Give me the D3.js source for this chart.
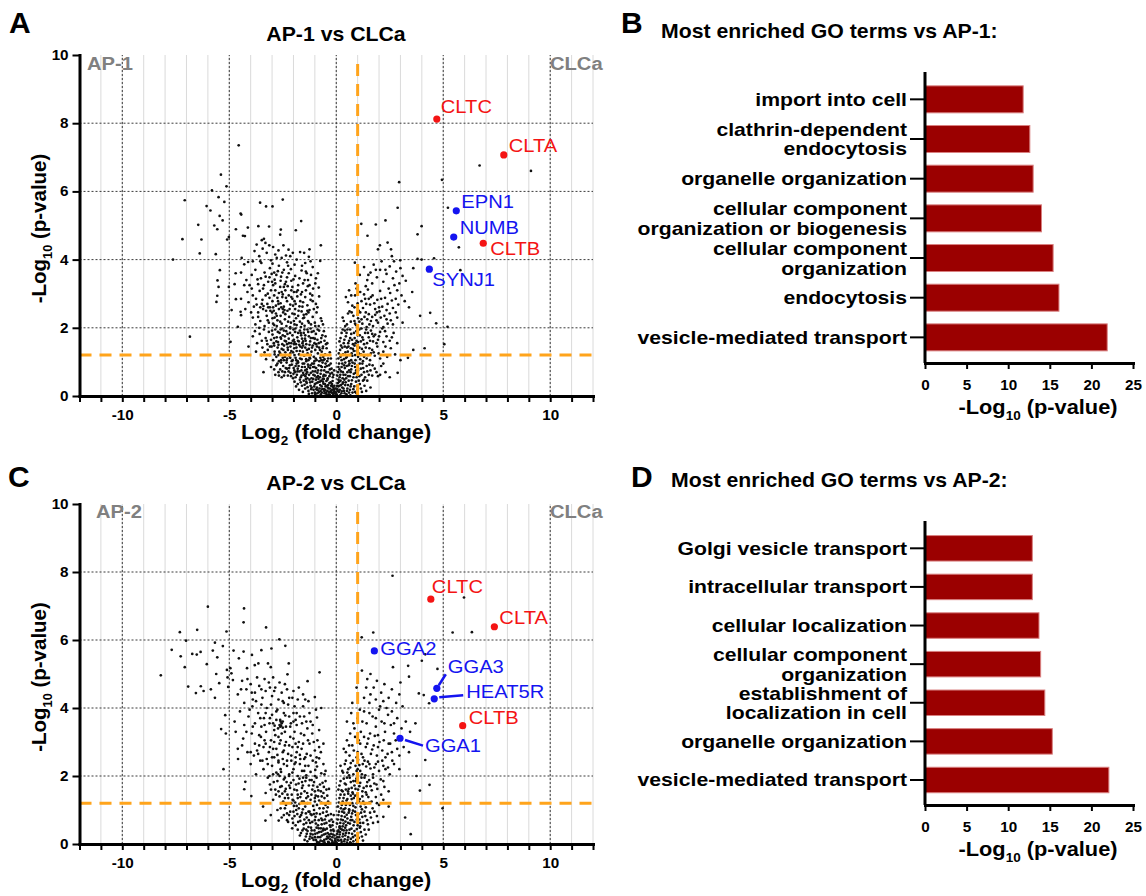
<!DOCTYPE html>
<html>
<head>
<meta charset="utf-8">
<script src="https://cdn.jsdelivr.net/npm/d3@7"></script>
<style>
body { margin: 0; background: #fff; }
svg { display: block; }
</style>
</head>
<body>
<div id="fig"></div>
<script>
'use strict'

// ---------- data ----------

// panel A: AP-1 vs CLCa, background proteins [log2 FC, -log10 p]
const ap1Points = [
	[-4.56,7.35],[-5.39,6.49],[-5.81,6.03],[-5.13,6.15],[-7.08,5.74],[-5.5,5.83],[-5.23,5.69],[-6.06,5.57],[-5.88,5.44],[-5.45,5.28],
	[-6.45,5.02],[-5.7,5.0],[-5.31,5.15],[-5.56,4.89],[-7.19,4.6],[-6.3,4.59],[-5.02,4.66],[-5.1,4.59],[-6.38,4.18],[-5.63,4.16],
	[-7.63,4.0],[-6.84,1.74],[-4.47,5.35],[-4.44,5.32],[-3.56,5.67],[-3.28,5.56],[-2.98,5.56],[-2.5,5.76],[-1.64,5.13],[-0.72,4.42],
	[-4.69,4.89],[-4.13,4.94],[-4.36,4.7],[-4.27,4.69],[-3.64,4.98],[-3.14,4.97],[-2.59,4.88],[-2.62,4.73],[-1.89,4.86],
	[-3.72,4.44],[-3.48,4.57],[-3.38,4.61],[-3.31,4.49],[-3.44,4.32],[-3.13,4.42],[-2.95,4.37],[-2.7,4.27],[-2.47,4.42],[-2.23,4.29],
	[-2.03,4.2],[-1.69,4.22],[-1.5,4.2],[-1.28,4.08],[-0.75,3.96],[-3.6,4.1],[-3.05,3.98],[-2.85,4.15],[-2.55,4.05],[-2.3,3.92],
	[-1.95,3.85],[-1.45,3.9],[-3.9,3.95],[-4.42,4.05],[-4.3,3.86],[-4.12,3.93],[-2.68,3.82],[-1.1,3.78],
	[-4.7,3.6],[-4.45,3.62],[-4.2,3.4],[-3.95,3.55],[-3.78,3.7],[-3.52,3.45],[-3.35,3.62],[-3.18,3.35],[-3.02,3.58],[-2.88,3.41],
	[-2.73,3.66],[-2.58,3.5],[-2.4,3.28],[-2.22,3.6],[-2.1,3.38],[-1.92,3.52],[-1.78,3.25],[-1.62,3.68],[-1.48,3.4],[-1.33,3.22],
	[-1.18,3.55],[-0.98,3.3],[-0.86,3.6],[-5.44,3.69],[-5.55,3.39],[-5.02,3.2],[-4.75,3.28],[-4.05,3.25],[-3.65,3.28],[-2.95,3.25],
	[-2.3,3.48],[-1.55,3.3],
	[-5.5,3.2],[-5.56,2.94],[-5.6,2.76],[-4.69,2.84],[-4.15,3.05],[-4.1,2.75],[-3.9,2.95],[-3.72,2.68],[-3.58,3.08],[-3.45,2.82],
	[-3.3,2.95],[-3.22,2.7],[-3.12,2.88],[-3.05,3.1],[-2.98,2.78],[-2.9,2.95],[-2.82,2.65],[-2.75,2.88],[-2.68,3.02],[-2.6,2.72],
	[-2.52,2.9],[-2.45,2.62],[-2.38,3.1],[-2.3,2.78],[-2.22,2.95],[-2.15,2.68],[-2.05,2.85],[-1.98,3.05],[-1.9,2.7],[-1.82,2.92],
	[-1.72,2.63],[-1.65,2.98],[-1.55,2.75],[-1.45,2.9],[-1.35,2.66],[-1.22,3.0],[-1.1,2.78],[-0.95,2.7],[-0.8,2.92],[-3.85,2.62],
	[-3.4,2.64],[-2.95,2.6],[-2.7,2.7],[-3.18,2.6],[-2.55,3.05],
	[-4.89,2.52],[-4.47,2.47],[-4.45,2.37],[-4.6,2.03],[-3.9,2.3],[-3.78,2.1],[-3.65,2.45],[-3.55,2.2],[-3.42,2.55],[-3.35,2.05],
	[-3.25,2.35],[-3.15,2.15],[-3.08,2.5],[-2.98,2.28],[-2.9,2.08],[-2.82,2.42],[-2.75,2.22],[-2.68,2.55],[-2.6,2.35],[-2.55,2.12],
	[-2.48,2.45],[-2.4,2.25],[-2.33,2.05],[-2.28,2.5],[-2.2,2.32],[-2.12,2.15],[-2.05,2.42],[-1.98,2.2],[-1.92,2.55],[-1.85,2.08],
	[-1.78,2.35],[-1.7,2.18],[-1.62,2.48],[-1.55,2.28],[-1.48,2.06],[-1.4,2.4],[-1.32,2.2],[-1.25,2.52],[-1.18,2.1],[-1.1,2.32],
	[-1.0,2.15],[-0.92,2.45],[-0.82,2.05],[-0.72,2.28],[-0.62,2.1],[-3.6,2.0],[-3.0,2.45],[-2.5,2.55],[-2.15,2.02],[-1.65,2.02],
	[-1.35,2.5],[-2.88,2.3],[-2.38,2.4],[-1.88,2.28],[-1.52,2.38],[-3.2,2.22],
	[-4.94,1.59],[-3.9,1.75],[-3.8,1.9],[-3.7,1.55],[-3.58,1.82],[-3.48,1.62],[-3.38,1.95],[-3.3,1.7],[-3.22,1.52],[-3.15,1.88],
	[-3.05,1.65],[-2.98,1.8],[-2.92,1.55],[-2.85,1.95],[-2.78,1.72],[-2.72,1.58],[-2.65,1.85],[-2.58,1.68],[-2.52,1.52],[-2.45,1.92],
	[-2.4,1.75],[-2.35,1.6],[-2.28,1.82],[-2.22,1.68],[-2.15,1.98],[-2.1,1.55],[-2.05,1.78],[-1.98,1.65],[-1.92,1.88],[-1.88,1.52],
	[-1.82,1.72],[-1.75,1.6],[-1.7,1.92],[-1.64,1.78],[-1.58,1.55],[-1.52,1.85],[-1.46,1.68],[-1.4,1.52],[-1.35,1.95],[-1.28,1.75],
	[-1.22,1.6],[-1.15,1.88],[-1.08,1.7],[-1.02,1.55],[-0.95,1.82],[-0.88,1.65],[-0.8,1.92],[-0.72,1.58],[-0.65,1.78],[-0.55,1.62],
	[-0.48,1.52],[-2.6,1.95],[-2.0,1.95],[-1.6,1.68],[-1.2,1.98],[-2.3,1.52],[-2.9,1.7],[-2.5,1.78],[-1.95,1.58],[-1.45,1.78],
	[-1.78,1.85],[-2.7,1.5],
	[-4.1,1.45],[-3.75,1.3],[-3.5,1.2],[-3.45,1.42],[-3.28,1.08],[-3.2,1.35],[-3.12,1.2],[-3.02,1.45],[-2.95,1.05],[-2.88,1.3],
	[-2.8,1.15],[-2.74,1.42],[-2.68,1.02],[-2.62,1.25],[-2.55,1.38],[-2.5,1.12],[-2.44,1.48],[-2.38,1.28],[-2.32,1.05],[-2.26,1.35],
	[-2.2,1.18],[-2.14,1.45],[-2.08,1.02],[-2.02,1.28],[-1.96,1.4],[-1.9,1.12],[-1.85,1.32],[-1.8,1.02],[-1.74,1.22],[-1.68,1.45],
	[-1.62,1.08],[-1.56,1.3],[-1.5,1.18],[-1.45,1.42],[-1.4,1.02],[-1.34,1.25],[-1.28,1.38],[-1.22,1.1],[-1.16,1.3],[-1.1,1.48],
	[-1.05,1.15],[-0.98,1.35],[-0.92,1.05],[-0.86,1.25],[-0.8,1.42],[-0.74,1.12],[-0.68,1.3],[-0.6,1.05],[-0.52,1.22],[-0.45,1.4],
	[-0.38,1.1],[-0.3,1.28],[-2.9,1.48],[-2.4,1.15],[-1.95,1.2],[-1.55,1.48],[-1.2,1.2],[-0.9,1.45],[-2.7,1.2],[-2.15,1.25],
	[-1.7,1.32],[-1.3,1.05],[-0.62,1.45],[-3.35,1.28],[-2.58,1.05],[-1.02,1.02],
	[-3.4,0.7],[-3.05,0.85],[-2.85,0.62],[-2.75,0.95],[-2.62,0.78],[-2.55,0.55],[-2.48,0.88],[-2.4,0.7],[-2.32,0.98],[-2.26,0.6],
	[-2.2,0.82],[-2.14,0.68],[-2.08,0.92],[-2.02,0.52],[-1.96,0.75],[-1.9,0.88],[-1.84,0.62],[-1.78,0.98],[-1.72,0.72],[-1.66,0.55],
	[-1.6,0.85],[-1.55,0.68],[-1.5,0.95],[-1.44,0.58],[-1.38,0.78],[-1.32,0.92],[-1.27,0.62],[-1.22,0.82],[-1.16,0.52],[-1.1,0.72],
	[-1.05,0.95],[-1.0,0.6],[-0.94,0.82],[-0.88,0.68],[-0.82,0.9],[-0.76,0.55],[-0.7,0.75],[-0.64,0.98],[-0.58,0.62],[-0.52,0.85],
	[-0.46,0.7],[-0.4,0.52],[-0.34,0.9],[-0.28,0.65],[-0.22,0.8],[-0.16,0.55],[-2.0,0.65],[-1.8,0.8],[-1.4,0.65],[-1.2,0.9],
	[-0.98,0.72],[-0.72,0.88],[-0.6,0.58],[-2.3,0.8],[-1.62,0.6],[-1.08,0.85],[-0.85,0.58],[-0.5,0.95],[-1.9,0.55],[-1.35,0.52],
	[-2.7,0.7],[-0.3,0.78],
	[-1.95,0.42],[-1.8,0.35],[-1.7,0.48],[-1.6,0.3],[-1.52,0.45],[-1.45,0.22],[-1.38,0.38],[-1.3,0.15],[-1.25,0.48],[-1.2,0.3],
	[-1.12,0.42],[-1.06,0.18],[-1.0,0.35],[-0.95,0.48],[-0.9,0.25],[-0.85,0.4],[-0.8,0.12],[-0.75,0.32],[-0.7,0.45],[-0.65,0.2],
	[-0.6,0.36],[-0.55,0.08],[-0.5,0.28],[-0.46,0.44],[-0.42,0.15],[-0.38,0.32],[-0.34,0.05],[-0.3,0.22],[-0.26,0.4],[-0.22,0.1],
	[-0.18,0.28],[-0.14,0.04],[-0.1,0.18],[-0.06,0.08],[-0.03,0.02],[-1.4,0.42],[-1.15,0.25],[-0.72,0.05],[-0.52,0.18],[-0.28,0.12],
	[-0.88,0.08],[-0.62,0.42],[-0.4,0.25],[-0.2,0.35],[-0.12,0.12],[-1.0,0.1],[-0.78,0.22],
	[-1.88,0.28],[-1.74,0.18],[-1.66,0.4],[-1.56,0.12],[-1.48,0.33],[-1.42,0.5],[-1.34,0.26],[-1.28,0.06],[-1.22,0.4],[-1.17,0.2],
	[-1.08,0.5],[-1.03,0.28],[-0.98,0.05],[-0.92,0.38],[-0.87,0.17],[-0.83,0.5],[-0.77,0.42],[-0.73,0.15],[-0.68,0.28],[-0.63,0.5],
	[-0.57,0.2],[-0.53,0.35],[-0.48,0.1],[-0.44,0.3],[-0.41,0.48],[-0.36,0.22],[-0.32,0.38],[-0.29,0.03],[-0.24,0.3],[-0.2,0.18],
	[-0.17,0.44],[-0.13,0.24],[-0.09,0.3],[-0.07,0.12],[-0.04,0.22],[-0.15,0.08],[-0.25,0.15],[-0.35,0.12],[-0.45,0.05],[-0.56,0.15],
	[-0.67,0.1],[-0.58,0.5],[-0.93,0.2],[-1.13,0.08],[-0.02,0.1],
	[-2.9,0.78],[-2.8,0.9],[-2.68,0.6],[-2.58,0.98],[-2.52,0.72],[-2.44,0.6],[-2.36,0.82],[-2.29,1.1],[-2.23,0.72],[-2.17,0.9],
	[-2.11,0.58],[-2.04,1.05],[-1.99,0.82],[-1.93,0.7],[-1.87,1.05],[-1.81,0.72],[-1.76,0.88],[-1.69,1.1],[-1.63,0.75],[-1.57,0.95],
	[-1.52,0.62],[-1.47,0.85],[-1.41,1.08],[-1.36,0.7],[-1.3,0.85],[-1.25,1.12],[-1.19,0.68],[-1.13,0.95],[-1.07,0.62],[-1.02,0.85],
	[-0.96,1.1],[-0.91,0.55],[-0.85,0.75],[-0.79,1.02],[-0.73,0.65],[-0.67,0.85],[-0.61,1.15],[-0.56,0.75],[-0.5,0.6],[-0.44,0.88],
	[-0.38,0.7],[-0.32,0.58],[-0.26,0.95],[-0.2,0.68],[-0.13,0.62],[-0.1,0.75],[-0.42,1.02],[-0.55,1.08],[-0.25,1.1],[-1.45,0.75],
	[-1.85,0.95],[-2.15,1.12],[-2.45,1.05],[-0.7,1.05],
	[-3.25,1.62],[-3.1,1.45],[-3.0,1.92],[-2.88,1.22],[-2.8,1.6],[-2.73,1.88],[-2.66,1.3],[-2.6,1.72],[-2.52,1.98],[-2.47,1.35],
	[-2.41,1.62],[-2.34,1.9],[-2.27,1.42],[-2.21,1.55],[-2.16,1.85],[-2.1,1.32],[-2.03,1.62],[-1.97,1.52],[-1.91,1.98],[-1.86,1.42],
	[-1.79,1.62],[-1.73,1.5],[-1.66,1.85],[-1.6,1.42],[-1.55,1.6],[-1.49,1.95],[-1.43,1.62],[-1.37,1.35],[-1.31,1.88],[-1.25,1.5],
	[-1.19,1.7],[-1.13,1.42],[-1.06,1.9],[-1.0,1.68],[-0.94,1.52],[-0.87,1.95],[-0.82,1.55],[-0.76,1.35],[-0.7,1.7],[-0.63,1.4],
	[-0.58,1.9],[-0.5,1.75],[-0.42,1.55],[-2.95,2.12],[-2.62,2.18],[-2.25,2.18],[-1.95,2.1],[-1.6,2.12],[-1.28,2.15],[-0.98,2.05],
	[-0.68,2.2],[-2.78,2.05],
	[-3.65,2.32],[-3.48,2.7],[-3.38,3.25],[-3.28,2.5],[-3.2,3.0],[-3.1,2.6],[-3.0,3.35],[-2.92,2.5],[-2.85,3.1],[-2.78,2.35],
	[-2.72,2.78],[-2.62,3.2],[-2.57,2.6],[-2.5,2.98],[-2.42,2.52],[-2.35,2.88],[-2.27,3.22],[-2.18,2.55],[-2.1,2.9],[-2.02,2.65],
	[-1.95,2.4],[-1.86,3.05],[-1.76,2.5],[-1.68,2.78],[-1.58,2.62],[-1.5,2.3],[-1.42,3.1],[-1.3,2.45],[-1.2,2.82],[-1.05,2.55],
	[-0.88,2.6],[-3.1,3.75],[-2.8,3.55],[-2.45,3.7],[-2.05,3.2],[-1.72,3.45],[-1.38,3.6],[-3.5,3.9],[-2.15,4.1],[-1.25,4.3],
	[-3.82,4.25],[-3.55,3.95],[-3.25,4.2],[-2.98,3.88],[-2.78,4.05],[-2.52,3.62],[-2.35,4.12],[-2.12,3.72],[-1.85,4.0],[-1.6,3.82],
	[-1.42,3.65],[-1.2,3.95],[-3.68,3.42],[-3.42,3.15],[-3.12,3.48],[-2.85,3.3],[-2.6,3.38],[-2.35,3.35],[-2.0,3.42],[-1.8,3.1],
	[-1.6,3.05],[-1.32,3.4],[-1.08,3.15],[-0.95,3.45],[-3.95,3.15],[-4.3,3.25],[-4.45,2.85],[-4.25,2.55],[-3.98,2.45],[-3.75,2.85],
	[-3.3,3.5],[-2.45,3.2],[-2.9,3.62],[-2.1,3.1],[-1.95,2.78],[-1.25,3.25],[-0.82,3.18],[-1.12,2.95],[-3.55,2.6],[-2.25,3.82],
	[2.94,6.27],[4.94,6.34],[6.7,6.76],[9.1,6.6],[2.87,5.52],[1.17,5.05],[1.46,4.7],[1.85,5.03],[2.3,5.15],[3.99,4.98],
	[3.8,4.74],[5.22,5.52],[5.73,4.36],[2.04,4.42],[2.4,4.5],[2.56,4.3],[1.95,4.3],[2.6,4.1],[2.99,3.98],[3.99,4.0],
	[3.8,4.02],[4.57,4.04],[3.6,3.75],[5.8,3.69],[0.87,3.91],[3.92,2.35],[4.39,2.44],[4.67,2.13],[5.2,2.03],[5.05,1.52],
	[4.13,1.4],[3.6,1.35],[3.35,1.12],[2.87,0.68],
	[1.1,3.55],[1.3,3.78],[1.45,3.4],[1.6,3.62],[1.75,3.85],[1.9,3.48],[2.05,3.7],[2.2,3.35],[2.35,3.58],[2.5,3.8],
	[2.65,3.45],[2.8,3.65],[2.95,3.3],[3.1,3.52],[3.25,3.38],[1.38,3.22],[1.68,3.3],[2.12,3.95],[2.72,3.25],[3.0,3.75],[0.9,3.3],
	[0.45,2.9],[0.6,3.1],[0.75,2.65],[0.88,2.95],[1.0,2.72],[1.12,3.05],[1.25,2.58],[1.35,2.85],[1.48,3.12],[1.58,2.68],
	[1.7,2.95],[1.82,2.55],[1.92,2.82],[2.05,3.08],[2.15,2.62],[2.28,2.88],[2.4,2.7],[2.52,3.02],[2.65,2.58],[2.78,2.85],
	[2.9,2.68],[3.05,2.95],[3.2,2.78],[3.4,2.6],[3.55,3.05],[1.05,2.5],[1.62,2.9],[2.35,2.52],[0.95,3.15],[1.4,2.7],[2.0,2.6],[2.6,2.8],
	[0.3,2.3],[0.42,2.05],[0.55,2.42],[0.68,2.18],[0.8,2.35],[0.92,2.08],[1.02,2.28],[1.12,2.45],[1.22,2.12],[1.32,2.32],
	[1.42,2.02],[1.52,2.4],[1.62,2.2],[1.72,2.05],[1.82,2.38],[1.95,2.15],[2.08,2.3],[2.2,2.02],[2.35,2.25],[2.5,2.42],
	[2.65,2.1],[2.85,2.3],[3.1,2.15],[0.62,2.48],[1.08,2.18],[1.45,2.25],[1.9,2.45],[2.4,2.12],[0.85,2.2],
	[0.15,1.6],[0.25,1.85],[0.35,1.55],[0.45,1.75],[0.52,1.95],[0.6,1.62],[0.7,1.82],[0.78,1.52],[0.86,1.7],[0.94,1.9],
	[1.02,1.58],[1.1,1.78],[1.18,1.98],[1.26,1.65],[1.35,1.85],[1.44,1.55],[1.52,1.72],[1.62,1.92],[1.72,1.6],[1.82,1.8],
	[1.95,1.65],[2.05,1.88],[2.2,1.58],[2.35,1.75],[2.5,1.62],[2.68,1.85],[2.85,1.55],[0.4,1.92],[0.95,1.62],[1.4,1.95],
	[0.65,1.7],[1.15,1.6],[1.75,1.75],[2.15,1.98],
	[0.1,1.1],[0.18,1.35],[0.25,1.05],[0.32,1.22],[0.4,1.45],[0.46,1.12],[0.54,1.3],[0.6,1.02],[0.68,1.4],[0.75,1.18],
	[0.82,1.32],[0.9,1.05],[0.98,1.45],[1.05,1.25],[1.12,1.08],[1.2,1.38],[1.3,1.15],[1.38,1.42],[1.48,1.2],[1.58,1.05],
	[1.68,1.35],[1.8,1.18],[1.92,1.45],[2.05,1.1],[2.2,1.3],[2.38,1.15],[2.55,1.4],[2.75,1.22],[3.0,1.05],[0.5,1.42],
	[0.85,1.48],[1.25,1.02],[1.62,1.25],[0.22,1.48],[0.72,1.25],[1.02,1.15],
	[0.05,0.6],[0.1,0.85],[0.16,0.55],[0.22,0.72],[0.28,0.95],[0.34,0.62],[0.4,0.82],[0.46,0.52],[0.52,0.7],[0.58,0.9],
	[0.64,0.58],[0.7,0.78],[0.76,0.98],[0.82,0.65],[0.88,0.85],[0.95,0.55],[1.02,0.75],[1.1,0.95],[1.18,0.62],[1.26,0.82],
	[1.35,0.55],[1.45,0.72],[1.55,0.92],[1.68,0.6],[1.8,0.8],[1.95,0.58],[2.1,0.88],[2.3,0.7],[2.5,0.55],[0.3,0.52],
	[0.6,0.75],[0.9,0.68],[1.22,0.95],[0.42,0.98],[0.15,0.78],[1.6,0.75],
	[0.02,0.05],[0.05,0.2],[0.08,0.38],[0.12,0.12],[0.15,0.3],[0.2,0.45],[0.24,0.08],[0.28,0.25],[0.32,0.4],[0.36,0.15],
	[0.42,0.32],[0.48,0.05],[0.52,0.22],[0.58,0.45],[0.64,0.18],[0.7,0.35],[0.76,0.1],[0.84,0.28],[0.92,0.42],[1.0,0.2],
	[1.1,0.35],[1.2,0.12],[1.32,0.3],[1.45,0.45],[1.6,0.25],[0.18,0.02],[0.38,0.48],[0.66,0.02],[0.95,0.08],[1.25,0.45],[0.1,0.48],
	[0.04,0.3],[0.07,0.15],[0.1,0.28],[0.14,0.42],[0.17,0.18],[0.22,0.32],[0.26,0.14],[0.3,0.36],[0.34,0.22],[0.39,0.08],
	[0.44,0.4],[0.5,0.15],[0.55,0.32],[0.6,0.1],[0.67,0.28],[0.73,0.46],[0.8,0.2],[0.88,0.12],[0.97,0.3],[1.05,0.45],
	[1.15,0.22],[1.3,0.48],[1.4,0.15],
	[0.08,0.7],[0.13,0.95],[0.19,0.62],[0.25,0.85],[0.31,0.7],[0.37,0.9],[0.43,0.62],[0.49,0.88],[0.55,0.58],[0.62,0.95],
	[0.67,0.7],[0.73,0.88],[0.8,0.55],[0.86,0.95],[0.93,0.75],[1.0,0.9],[1.08,0.58],[1.15,0.8],[1.3,0.7],[1.42,0.88],
	[1.52,0.62],[1.7,0.9],[1.88,0.7],[2.05,0.62],[2.2,0.95],
	[0.12,1.25],[0.2,1.15],[0.28,1.42],[0.36,1.08],[0.43,1.28],[0.5,1.15],[0.57,1.45],[0.64,1.2],[0.7,1.05],[0.78,1.38],
	[0.88,1.2],[0.95,1.32],[1.08,1.42],[1.15,1.22],[1.28,1.3],[1.42,1.1],[1.55,1.4],[1.75,1.28],[1.98,1.25],[2.3,1.45],
	[0.2,1.7],[0.3,1.95],[0.38,1.65],[0.48,1.85],[0.56,1.55],[0.65,1.95],[0.74,1.65],[0.83,1.85],[0.9,1.55],[1.0,1.78],
	[1.08,1.95],[1.22,1.72],[1.3,1.52],[1.48,1.85],[1.58,1.62],[1.68,1.82],[1.88,1.55],[2.0,1.75],[2.28,1.9],[2.6,1.72],
	[0.35,2.2],[0.5,2.1],[0.72,2.45],[0.88,2.12],[1.0,2.38],[1.18,2.25],[1.38,2.45],[1.55,2.1],[1.68,2.32],[1.88,2.22],
	[2.02,2.48],[2.25,2.35],[2.55,2.22],[2.78,2.45],
	[0.55,2.75],[0.7,2.95],[0.85,2.6],[1.18,2.78],[1.3,2.98],[1.52,2.85],[1.78,2.72],[2.1,2.85],[2.45,3.15],[2.85,3.1],
	[1.5,3.55],[1.85,3.7],[2.3,3.7],[2.7,3.95]
]

// panel C: AP-2 vs CLCa, background proteins
const ap2Points = [
	[-6.0,6.98],[-4.31,6.93],[-4.33,6.52],[-7.31,6.23],[-6.5,6.3],[-5.13,6.25],[-7.02,5.98],[-7.69,5.71],[-5.67,5.92],[-3.28,6.37],
	[-2.66,6.02],[-2.38,5.83],[-3.03,5.75],[-3.5,5.7],[-7.27,5.52],[-6.73,5.59],[-6.52,5.57],[-6.34,5.65],[-5.77,5.69],[-5.56,5.49],
	[-5.3,5.82],[-4.8,5.69],[-4.33,5.66],[-4.55,5.46],[-3.94,5.56],[-6.05,5.29],[-7.08,5.2],[-8.2,4.96],[-5.11,5.12],[-4.95,5.17],
	[-4.9,5.02],[-5.08,4.9],[-4.83,4.82],[-5.05,4.62],[-5.61,5.0],[-5.47,4.73],[-5.86,4.55],[-6.33,4.64],[-6.2,4.5],[-6.56,4.44],
	[-6.92,4.63],[-5.67,4.3],[-4.17,5.17],[-3.81,5.26],[-3.64,5.31],[-3.19,5.31],[-3.06,5.2],
	[-4.4,4.8],[-4.2,4.55],[-4.0,4.7],[-3.8,4.45],[-3.6,4.65],[-3.45,4.3],[-3.3,4.5],[-3.15,4.75],[-3.0,4.35],[-2.85,4.6],
	[-2.7,4.25],[-2.55,4.45],[-2.4,4.7],[-2.2,4.3],[-2.0,4.5],[-1.8,4.25],[-1.55,4.4],[-1.3,4.2],[-1.0,4.32],[-3.9,4.25],
	[-2.95,4.9],[-4.6,4.4],[-1.34,4.79],[-0.78,5.05],[-2.22,5.31],[-2.28,4.99],
	[-4.75,3.6],[-4.5,3.9],[-4.3,3.5],[-4.1,3.75],[-3.92,4.05],[-3.8,3.55],[-3.65,3.85],[-3.5,3.45],[-3.38,3.7],[-3.25,4.0],
	[-3.12,3.55],[-3.0,3.8],[-2.88,3.48],[-2.75,3.95],[-2.62,3.65],[-2.5,3.42],[-2.38,3.78],[-2.25,4.1],[-2.12,3.55],[-2.0,3.85],
	[-1.85,3.5],[-1.7,3.75],[-1.55,4.05],[-1.4,3.6],[-1.25,3.85],[-1.1,3.5],[-0.9,3.72],[-0.7,4.0],[-2.65,3.5],[-2.55,3.55],
	[-2.6,3.6],[-3.35,3.5],[-5.38,3.38],[-5.19,3.79],[-5.16,3.25],[-4.7,3.3],
	[-4.6,2.8],[-4.35,3.1],[-4.15,2.7],[-3.95,3.25],[-3.8,2.95],[-3.65,2.65],[-3.52,3.15],[-3.4,2.85],[-3.28,3.3],[-3.15,2.7],
	[-3.05,3.05],[-2.95,2.8],[-2.85,3.2],[-2.75,2.62],[-2.65,2.95],[-2.55,3.25],[-2.45,2.75],[-2.35,3.0],[-2.25,2.65],[-2.15,3.15],
	[-2.05,2.85],[-1.95,3.3],[-1.85,2.7],[-1.75,3.0],[-1.62,2.8],[-1.5,3.2],[-1.38,2.65],[-1.25,2.95],[-1.12,3.25],[-1.0,2.75],
	[-0.88,3.05],[-0.72,2.7],[-0.6,2.95],[-2.9,3.0],[-2.4,2.9],[-1.9,2.95],[-3.6,2.9],[-4.59,2.5],[-4.0,2.7],[-1.7,2.62],
	[-4.0,2.35],[-3.75,2.05],[-3.55,2.45],[-3.4,2.2],[-3.25,2.5],[-3.12,2.0],[-3.0,2.3],[-2.9,2.55],[-2.8,2.1],[-2.7,2.4],
	[-2.6,2.2],[-2.5,2.5],[-2.4,1.95],[-2.3,2.3],[-2.2,2.05],[-2.1,2.45],[-2.0,2.2],[-1.9,2.55],[-1.8,2.0],[-1.7,2.35],
	[-1.6,2.15],[-1.5,2.5],[-1.4,2.02],[-1.3,2.3],[-1.2,2.12],[-1.1,2.45],[-1.0,2.0],[-0.9,2.28],[-0.8,2.52],[-0.7,2.08],
	[-0.6,2.35],[-0.5,2.15],[-2.95,2.05],[-2.45,2.35],[-1.95,2.35],[-1.45,2.3],[-0.95,2.4],[-2.65,2.0],[-1.55,1.95],[-5.27,2.2],[-4.25,1.83],
	[-4.3,1.61],[-3.97,1.41],[-3.3,1.5],[-3.1,1.75],[-2.95,1.3],[-2.85,1.6],[-2.75,1.85],[-2.65,1.4],[-2.55,1.7],[-2.48,1.25],
	[-2.4,1.55],[-2.32,1.82],[-2.24,1.35],[-2.16,1.65],[-2.08,1.45],[-2.0,1.88],[-1.92,1.22],[-1.84,1.58],[-1.76,1.78],[-1.68,1.38],
	[-1.6,1.65],[-1.52,1.25],[-1.44,1.85],[-1.36,1.5],[-1.28,1.72],[-1.2,1.3],[-1.12,1.6],[-1.04,1.82],[-0.96,1.42],[-0.88,1.68],
	[-0.8,1.28],[-0.72,1.55],[-0.64,1.8],[-0.55,1.35],[-0.46,1.6],[-0.38,1.25],[-2.7,1.55],[-2.2,1.72],[-1.8,1.45],[-1.4,1.35],
	[-1.0,1.55],[-0.6,1.5],[-2.4,1.35],[-1.6,1.82],[-1.15,1.88],[-0.85,1.4],
	[-3.42,1.1],[-3.31,0.69],[-3.06,0.85],[-2.69,0.69],[-2.06,0.46],[-2.6,1.05],[-2.45,0.85],[-2.35,1.15],[-2.25,0.65],[-2.15,0.95],
	[-2.05,0.75],[-1.98,1.12],[-1.9,0.55],[-1.82,0.88],[-1.75,1.05],[-1.68,0.68],[-1.6,0.92],[-1.52,0.58],[-1.45,1.1],[-1.38,0.78],
	[-1.3,0.95],[-1.22,0.62],[-1.15,0.85],[-1.08,1.12],[-1.0,0.7],[-0.92,0.9],[-0.85,0.55],[-0.78,1.05],[-0.7,0.75],[-0.62,0.92],
	[-0.55,0.6],[-0.48,0.82],[-0.4,1.08],[-0.32,0.68],[-0.25,0.88],[-0.18,0.55],[-1.7,0.8],[-1.25,0.95],[-0.95,0.6],[-0.65,0.7],
	[-2.0,0.95],[-1.4,0.62],[-1.05,0.88],[-0.45,0.95],[-1.85,1.12],[-2.3,0.9],
	[-1.8,0.42],[-1.65,0.32],[-1.52,0.45],[-1.42,0.22],[-1.34,0.38],[-1.25,0.15],[-1.18,0.48],[-1.1,0.28],[-1.02,0.4],[-0.95,0.12],
	[-0.88,0.32],[-0.82,0.46],[-0.75,0.2],[-0.7,0.36],[-0.64,0.08],[-0.58,0.28],[-0.52,0.42],[-0.46,0.15],[-0.4,0.32],[-0.35,0.05],
	[-0.3,0.22],[-0.25,0.4],[-0.2,0.1],[-0.15,0.28],[-0.1,0.04],[-0.06,0.16],[-0.03,0.06],[-1.4,0.42],[-1.0,0.2],[-0.6,0.45],
	[-0.38,0.18],[-0.22,0.02],[-0.8,0.05],[-0.12,0.38],[-1.2,0.3],
	[-1.7,0.25],[-1.58,0.4],[-1.48,0.12],[-1.38,0.3],[-1.3,0.5],[-1.22,0.22],[-1.15,0.4],[-1.06,0.12],[-0.98,0.3],[-0.92,0.48],
	[-0.86,0.2],[-0.8,0.35],[-0.73,0.1],[-0.67,0.25],[-0.62,0.4],[-0.56,0.12],[-0.5,0.3],[-0.44,0.45],[-0.38,0.06],[-0.33,0.28],
	[-0.28,0.14],[-0.24,0.3],[-0.18,0.2],[-0.14,0.42],[-0.08,0.25],[-0.05,0.1],[-0.17,0.05],[-0.27,0.5],[-0.42,0.22],[-0.55,0.05],
	[-0.72,0.46],[-0.9,0.06],[-1.12,0.18],[-1.35,0.08],
	[-2.75,1.0],[-2.55,0.78],[-2.4,1.05],[-2.3,0.7],[-2.2,0.85],[-2.1,1.2],[-2.02,0.62],[-1.95,0.82],[-1.87,1.0],[-1.78,0.65],
	[-1.72,1.18],[-1.64,0.85],[-1.56,1.02],[-1.49,0.72],[-1.42,0.9],[-1.35,1.2],[-1.28,0.7],[-1.2,0.88],[-1.12,0.65],[-1.04,1.0],
	[-0.97,0.8],[-0.9,1.15],[-0.82,0.7],[-0.76,0.88],[-0.68,0.58],[-0.6,1.05],[-0.53,0.72],[-0.46,0.62],[-0.38,0.85],[-0.3,0.55],
	[-0.22,0.72],[-0.15,0.65],[-0.12,0.85],[-0.35,1.2],[-0.5,1.15],[-0.7,1.22],[-1.0,1.25],[-1.6,1.25],[-2.0,1.28],[-2.5,1.22],
	[-3.2,1.95],[-3.05,1.6],[-2.92,1.82],[-2.82,1.45],[-2.72,2.05],[-2.62,1.68],[-2.52,1.48],[-2.45,1.9],[-2.36,1.62],[-2.28,1.45],
	[-2.2,2.0],[-2.12,1.8],[-2.04,1.3],[-1.96,1.6],[-1.88,1.75],[-1.8,1.35],[-1.72,1.92],[-1.64,1.48],[-1.56,1.72],[-1.48,1.55],
	[-1.4,1.95],[-1.32,1.4],[-1.24,1.88],[-1.16,1.45],[-1.08,1.72],[-1.0,1.35],[-0.92,1.95],[-0.84,1.58],[-0.76,1.75],[-0.68,1.4],
	[-0.58,1.68],[-0.5,1.85],[-0.42,1.42],[-0.34,1.62],[-2.58,2.12],[-2.05,2.1],[-1.5,2.15],[-0.98,2.18],[-0.55,2.05],
	[-3.7,2.75],[-3.45,2.45],[-3.35,3.05],[-3.2,2.35],[-3.1,2.85],[-3.0,2.55],[-2.9,3.35],[-2.8,2.8],[-2.7,2.45],[-2.6,3.05],
	[-2.5,2.7],[-2.4,3.3],[-2.3,2.45],[-2.2,2.9],[-2.1,2.6],[-2.0,3.1],[-1.9,2.4],[-1.8,2.85],[-1.68,2.5],[-1.55,2.95],
	[-1.45,2.55],[-1.32,3.05],[-1.2,2.6],[-1.05,3.0],[-0.92,2.55],[-0.8,2.85],[-3.1,3.7],[-2.8,3.9],[-2.5,3.6],[-2.2,3.75],
	[-1.9,3.65],[-1.6,3.55],[-2.72,3.4],[-2.45,4.15],[-1.95,4.05],[-3.5,4.1],[-2.62,3.45],[-2.58,3.48],
	[-4.45,4.55],[-4.15,4.85],[-3.95,4.45],[-3.7,4.9],[-3.5,4.55],[-3.35,4.85],[-3.1,4.6],[-2.9,4.5],[-2.65,4.75],[-2.5,4.2],
	[-2.3,4.55],[-2.05,4.3],[-1.75,4.6],[-1.45,4.25],[-4.3,4.15],[-4.05,3.95],[-3.75,4.2],[-3.55,3.7],[-3.3,3.85],[-3.05,4.1],
	[-2.8,3.65],[-2.45,3.85],[-2.15,3.45],[-1.85,3.85],[-1.5,3.75],[-1.2,3.6],[-0.95,3.95],[-4.2,3.3],[-3.9,3.45],[-3.6,3.2],
	[-3.3,2.95],[-2.95,3.55],[-2.7,3.15],[-2.35,3.45],[-2.0,3.6],[-1.65,3.25],[-1.35,3.4],[-0.8,3.35],[-3.85,2.6],[-4.4,2.9],
	[2.63,7.89],[5.97,7.25],[5.44,6.22],[6.34,6.23],[1.73,6.22],[1.19,6.08],[4.16,5.58],[4.0,5.39],[4.73,5.15],[3.36,5.24],
	[3.4,4.92],[3.86,4.43],[4.09,4.38],[4.34,4.14],[2.65,5.2],[3.0,4.75],
	[1.2,5.1],[1.45,4.85],[1.6,5.0],[1.75,4.6],[1.9,4.8],[2.1,4.45],[2.25,4.7],[2.45,4.3],[2.6,4.55],[2.8,4.15],
	[2.95,4.4],[3.1,4.05],[1.3,4.3],[1.55,4.15],[1.85,4.25],[2.05,4.05],[2.35,4.0],[0.95,4.6],[0.75,4.15],
	[0.5,3.6],[0.7,3.85],[0.85,3.4],[1.0,3.7],[1.15,3.3],[1.3,3.9],[1.42,3.55],[1.58,3.25],[1.7,3.75],[1.85,3.45],
	[2.0,3.95],[2.12,3.6],[2.28,3.3],[2.42,3.8],[2.55,3.5],[2.7,3.25],[2.85,3.7],[3.05,3.4],[3.25,3.6],[3.45,3.3],
	[3.7,3.55],[1.1,3.95],[1.95,3.2],[2.6,3.9],[0.65,3.25],
	[0.35,2.8],[0.5,3.05],[0.62,2.6],[0.75,2.9],[0.88,3.15],[1.0,2.7],[1.12,2.95],[1.25,2.55],[1.38,2.85],[1.5,3.1],
	[1.62,2.65],[1.75,2.9],[1.9,2.6],[2.02,3.0],[2.15,2.75],[2.3,2.55],[2.45,2.95],[2.6,2.7],[2.78,3.05],[2.95,2.6],
	[3.15,2.85],[3.4,2.7],[1.3,3.15],[0.95,2.55],[1.8,3.18],[2.4,2.65],
	[0.2,2.3],[0.32,2.1],[0.45,2.45],[0.56,2.2],[0.68,2.38],[0.8,2.05],[0.9,2.3],[1.02,2.48],[1.12,2.15],[1.24,2.35],
	[1.36,2.02],[1.48,2.42],[1.6,2.22],[1.72,2.05],[1.85,2.35],[2.0,2.15],[2.15,2.45],[2.3,2.2],[2.5,2.05],[2.7,2.35],
	[2.95,2.2],[0.6,2.02],[1.0,2.2],[1.4,2.28],[3.75,2.0],[4.16,2.47],[4.36,1.74],
	[0.1,1.6],[0.2,1.85],[0.3,1.55],[0.4,1.78],[0.5,1.95],[0.58,1.62],[0.68,1.82],[0.76,1.52],[0.85,1.72],[0.94,1.92],
	[1.02,1.6],[1.12,1.8],[1.22,1.55],[1.32,1.95],[1.42,1.7],[1.54,1.88],[1.66,1.58],[1.78,1.78],[1.92,1.62],[2.08,1.9],
	[2.25,1.68],[2.45,1.55],[0.45,1.6],[0.9,1.85],[1.38,1.52],[3.91,1.57],
	[0.08,1.1],[0.15,1.35],[0.22,1.05],[0.3,1.25],[0.38,1.45],[0.45,1.15],[0.52,1.32],[0.6,1.02],[0.68,1.42],[0.75,1.2],
	[0.82,1.35],[0.9,1.08],[0.98,1.45],[1.06,1.25],[1.14,1.1],[1.22,1.4],[1.32,1.18],[1.42,1.45],[1.55,1.22],[1.7,1.05],
	[1.85,1.38],[2.0,1.15],[2.2,1.3],[2.45,1.1],[0.35,1.02],[0.78,1.48],[1.2,1.02],[4.97,1.05],
	[0.04,0.6],[0.1,0.85],[0.16,0.52],[0.22,0.72],[0.28,0.95],[0.34,0.6],[0.4,0.8],[0.46,0.55],[0.52,0.75],[0.58,0.92],
	[0.64,0.6],[0.7,0.8],[0.78,0.98],[0.85,0.65],[0.92,0.85],[1.0,0.55],[1.08,0.72],[1.16,0.92],[1.26,0.62],[1.36,0.82],
	[1.48,0.58],[1.62,0.78],[1.78,0.95],[1.95,0.65],[2.2,0.8],[3.22,0.78],[0.3,0.52],[0.75,0.7],[1.12,0.52],
	[0.02,0.04],[0.05,0.2],[0.08,0.36],[0.12,0.1],[0.16,0.28],[0.2,0.45],[0.25,0.06],[0.3,0.22],[0.35,0.4],[0.4,0.14],
	[0.45,0.32],[0.5,0.04],[0.56,0.2],[0.62,0.42],[0.68,0.15],[0.74,0.3],[0.8,0.08],[0.88,0.25],[0.96,0.44],[1.05,0.18],
	[1.15,0.35],[1.25,0.1],[1.38,0.28],[1.52,0.42],[3.48,0.29],[0.15,0.48],[0.42,0.48],[0.7,0.02],[0.98,0.05],
	[0.04,0.3],[0.07,0.12],[0.1,0.4],[0.14,0.2],[0.18,0.35],[0.23,0.12],[0.27,0.42],[0.32,0.3],[0.37,0.08],[0.42,0.25],
	[0.48,0.4],[0.53,0.12],[0.59,0.32],[0.65,0.05],[0.71,0.45],[0.78,0.2],[0.85,0.38],[0.93,0.12],[1.02,0.32],[1.1,0.48],
	[1.2,0.22],[1.32,0.42],
	[0.07,0.72],[0.13,0.95],[0.19,0.62],[0.25,0.82],[0.31,0.7],[0.37,0.92],[0.43,0.66],[0.49,0.86],[0.55,0.62],[0.61,0.98],
	[0.67,0.7],[0.74,0.9],[0.81,0.55],[0.88,0.95],[0.96,0.72],[1.04,0.88],[1.12,0.62],[1.22,0.8],[1.32,0.95],[1.44,0.7],
	[1.58,0.92],[1.72,0.62],[1.9,0.82],
	[0.12,1.22],[0.2,1.45],[0.26,1.15],[0.34,1.35],[0.42,1.05],[0.48,1.28],[0.56,1.48],[0.64,1.15],[0.72,1.32],[0.8,1.12],
	[0.88,1.42],[0.96,1.2],[1.1,1.32],[1.26,1.25],[1.38,1.08],[1.5,1.38],[1.65,1.25],[1.9,1.2],[2.1,1.45],
	[0.15,1.72],[0.25,1.58],[0.35,1.92],[0.45,1.75],[0.55,1.55],[0.63,1.95],[0.72,1.65],[0.8,1.85],[0.9,1.62],[1.0,1.85],
	[1.08,1.7],[1.18,1.95],[1.28,1.65],[1.45,1.82],[1.6,1.7],[1.72,1.95],[1.88,1.75],[2.2,1.85],
	[0.28,2.15],[0.4,2.35],[0.52,2.1],[0.65,2.25],[0.78,2.45],[0.95,2.15],[1.08,2.32],[1.2,2.05],[1.32,2.45],[1.55,2.35],
	[1.78,2.25],[1.95,2.42],[2.2,2.3],[2.42,2.25],[2.62,2.45],
	[0.45,2.7],[0.6,2.9],[0.82,2.75],[1.05,3.05],[1.18,2.65],[1.45,2.95],[1.68,2.78],[1.95,2.85],[2.22,3.05],[2.52,2.95],
	[2.85,2.8],[0.8,3.55],[1.22,3.6],[1.55,3.85],[1.85,3.7],[2.25,3.55],[2.7,3.55],[1.6,4.4],[2.2,4.2],[1.4,4.6]
]

// highlighted proteins
const ap1HitGenes = ['CLTC', 'CLTA', 'CLTB', 'EPN1', 'NUMB', 'SYNJ1']
const ap1HitFC    = [4.70, 7.83, 6.87, 5.61, 5.49, 4.35]
const ap1HitP     = [8.12, 7.07, 4.48, 5.43, 4.66, 3.72]
const ap2HitGenes = ['CLTC', 'CLTA', 'CLTB', 'GGA2', 'GGA3', 'HEAT5R', 'GGA1']
const ap2HitFC    = [4.42, 7.39, 5.91, 1.78, 4.70, 4.58, 2.98]
const ap2HitP     = [7.20, 6.39, 3.48, 5.68, 4.58, 4.27, 3.11]
const clathrinGenes = ['CLTA', 'CLTB', 'CLTC']

// cut-offs drawn as orange lines
const fcCutoff = 1
const pCutoff = 1.2

// GO term enrichment
const go1Terms  = ['import into cell', 'clathrin-dependent\nendocytosis', 'organelle organization',
	'cellular component\norganization or biogenesis', 'cellular component\norganization', 'endocytosis', 'vesicle-mediated transport']
const go1Values = [11.8, 12.6, 13.0, 14.0, 15.4, 16.1, 21.9]
const go2Terms  = ['Golgi vesicle transport', 'intracellular transport', 'cellular localization',
	'cellular component\norganization', 'establishment of\nlocalization in cell', 'organelle organization', 'vesicle-mediated transport']
const go2Values = [12.9, 12.9, 13.7, 13.9, 14.4, 15.3, 22.1]

const volcanoXTicks = d3.range(-12, 13)
const volcanoYTicks = [0, 2, 4, 6, 8, 10]
const barXTicks = [0, 5, 10, 15, 20, 25]

// ---------- styling / layout ----------

const FONT = "'Liberation Sans', Arial, Helvetica, sans-serif"
const SX = 1.09   // the source figure is slightly stretched sideways
const RED = '#f41414'
const BLUE = '#1414f0'
const ORANGE = '#ffa41b'
const BAR = '#9b0000'

// label offsets in px relative to the dot: [dx, dy]
const labelOffsets = {
	A: { CLTC: [4, -6], CLTA: [5, -3], CLTB: [7, 12], EPN1: [5, -3], NUMB: [6, -3], SYNJ1: [3, 17] },
	C: { CLTC: [1, -6], CLTA: [5, -3], CLTB: [6, -2], GGA2: [6, 4], GGA3: [11, -15], HEAT5R: [32, -1], GGA1: [25, 14] }
}
const leaderLines = {
	GGA3: [2, -3, 9, -14],
	HEAT5R: [5, -1.5, 29, -3.5],
	GGA1: [5, 1.7, 23, 7.4]
}

let svg = d3.select('#fig').append('svg').attr('width', 1146).attr('height', 896)
svg.append('rect').attr('width', 1146).attr('height', 896).attr('fill', '#fff')

function txt(g, x, y, s, o) {
	o = o || {}
	return g.append('text')
		.attr('transform', 'translate(' + x + ',' + y + ') scale(' + (o.sx == undefined ? SX : o.sx) + ',1)')
		.attr('font-family', FONT)
		.attr('font-size', o.size || 14)
		.attr('font-weight', o.bold ? 'bold' : 'normal')
		.attr('fill', o.fill || '#000')
		.attr('text-anchor', o.anchor || 'start')
		.text(s)
}

// text like "Log" + subscript + rest
function subLabel(g, x, y, pre, sub, post, size, rotate) {
	let t = g.append('text')
		.attr('transform', 'translate(' + x + ',' + y + ')' + (rotate ? ' rotate(-90)' : ' scale(' + SX + ',1)'))
		.attr('font-family', FONT)
		.attr('font-size', size)
		.attr('font-weight', 'bold')
		.attr('text-anchor', 'middle')
	t.append('tspan').text(pre)
	t.append('tspan').attr('font-size', size * 0.62).attr('dy', size * 0.28).text(sub)
	t.append('tspan').attr('dy', -size * 0.28).text(post)
	return t
}

function styleAxis(ax, size) {
	ax.select('.domain').attr('stroke-width', 3).attr('stroke-linecap', 'square').attr('stroke', '#000')
	ax.selectAll('.tick line').attr('stroke-width', 2).attr('stroke', '#000')
	ax.selectAll('.tick text')
		.attr('font-family', FONT).attr('font-weight', 'bold').attr('font-size', size).attr('fill', '#000')
}

function volcano(opt) {
	let x = d3.scaleLinear().domain([-12, 12]).range([79.5, 593])
	let y = d3.scaleLinear().domain([0, 10]).range([opt.bottom, opt.top])
	let g = svg.append('g')

	// light grid every unit, dotted grid every 5 / 2 units
	g.append('g').selectAll('line')
		.data(volcanoXTicks.filter(function(v){ return v > -12 }))
		.enter().append('line')
		.attr('x1', function(d){ return x(d) }).attr('x2', function(d){ return x(d) })
		.attr('y1', y(0)).attr('y2', y(10))
		.attr('stroke', '#dadada').attr('stroke-width', 1)
	g.append('g').selectAll('line')
		.data(volcanoXTicks.filter(function(v){ return v % 5 == 0 }))
		.enter().append('line')
		.attr('x1', function(d){ return x(d) }).attr('x2', function(d){ return x(d) })
		.attr('y1', y(0)).attr('y2', y(10))
		.attr('stroke', '#3a3a3a').attr('stroke-width', 1).attr('stroke-dasharray', '2,2')
	g.append('g').selectAll('line')
		.data(volcanoYTicks.filter(function(v){ return v > 0 && v < 10 }))
		.enter().append('line')
		.attr('x1', x(-12)).attr('x2', x(12))
		.attr('y1', function(d){ return y(d) }).attr('y2', function(d){ return y(d) })
		.attr('stroke', '#3a3a3a').attr('stroke-width', 1).attr('stroke-dasharray', '2,2')

	// background proteins
	g.append('g').selectAll('circle')
		.data(opt.points)
		.enter().append('circle')
		.attr('cx', function(d){ return x(d[0]) })
		.attr('cy', function(d){ return y(d[1]) })
		.attr('r', 1.35)
		.attr('fill', '#111')

	// cut-off lines
	g.append('line')
		.attr('x1', x(-12)).attr('x2', x(12)).attr('y1', y(pCutoff)).attr('y2', y(pCutoff))
		.attr('stroke', ORANGE).attr('stroke-width', 3).attr('stroke-dasharray', '12,8')
	g.append('line')
		.attr('x1', x(fcCutoff)).attr('x2', x(fcCutoff)).attr('y1', y(0)).attr('y2', y(9.8))
		.attr('stroke', ORANGE).attr('stroke-width', 3).attr('stroke-dasharray', '12,8')

	// axes
	let xa = g.append('g').attr('transform', 'translate(0,' + y(0) + ')')
		.call(d3.axisBottom(x).tickValues(volcanoXTicks).tickSize(6).tickSizeOuter(0)
			.tickFormat(function(d){ return (d % 5 == 0 && Math.abs(d) < 12) ? d : '' }))
	styleAxis(xa, 14)
	xa.selectAll('.tick text').attr('y', 14).attr('transform', 'scale(' + SX + ',1)')
	let ya = g.append('g').attr('transform', 'translate(' + x(-12) + ',0)')
		.call(d3.axisLeft(y).tickValues(volcanoYTicks).tickSize(7).tickSizeOuter(0))
	styleAxis(ya, 14)
	ya.selectAll('.tick text').attr('transform', 'scale(' + SX + ',1)')

	// highlighted proteins
	let hits = opt.genes.map(function(gene, i){
		return { gene: gene, fc: opt.fc[i], p: opt.p[i] }
	})
	hits.forEach(function(h){
		let cx = x(h.fc), cy = y(h.p)
		let col = clathrinGenes.indexOf(h.gene) >= 0 ? RED : BLUE
		let off = opt.offsets[h.gene]
		if (leaderLines[h.gene] && opt.leaders) {
			let l = leaderLines[h.gene]
			g.append('line')
				.attr('x1', cx + l[0]).attr('y1', cy + l[1]).attr('x2', cx + l[2]).attr('y2', cy + l[3])
				.attr('stroke', col).attr('stroke-width', 2.5)
		}
		g.append('circle').attr('cx', cx).attr('cy', cy).attr('r', 3.6).attr('fill', col)
		txt(g, cx + off[0], cy + off[1], h.gene, { size: 18.5, fill: col })
	})

	// texts
	txt(g, opt.letterX, opt.letterY, opt.letter, { size: 30, bold: true, sx: 1 })
	txt(g, 336, opt.titleY, opt.title, { size: 19.5, bold: true, anchor: 'middle' })
	txt(g, opt.leftTagX, opt.tagY, opt.leftTag, { size: 18.5, bold: true, fill: '#808080' })
	txt(g, 550, opt.tagY, 'CLCa', { size: 18.5, bold: true, fill: '#808080' })
	subLabel(g, 336, opt.bottom + 43, 'Log', '2', ' (fold change)', 20, false)
	subLabel(g, 46, (opt.top + opt.bottom) / 2 + 3, '-Log', '10', ' (p-value)', 20.5, true)
}

function goPanel(opt) {
	let x = d3.scaleLinear().domain([0, 25]).range([925, 1133])
	let y = d3.scaleBand().domain(opt.terms).range(opt.band).paddingInner(opt.pi).paddingOuter(opt.pi / 2)
	let g = svg.append('g')

	g.append('g').selectAll('rect')
		.data(opt.terms)
		.enter().append('rect')
		.attr('x', x(0))
		.attr('y', function(d){ return y(d) })
		.attr('width', function(d, i){ return x(opt.values[i]) - x(0) })
		.attr('height', y.bandwidth())
		.attr('fill', BAR)
		.attr('stroke', '#d98080')
		.attr('stroke-width', 1)

	let xa = g.append('g').attr('transform', 'translate(0,' + opt.axisY + ')')
		.call(d3.axisBottom(x).tickValues(barXTicks).tickSize(6).tickSizeOuter(0))
	styleAxis(xa, 14)
	xa.selectAll('.tick text').attr('y', 17).attr('transform', 'scale(' + SX + ',1)')

	let ya = g.append('g').attr('transform', 'translate(' + x(0) + ',0)')
		.call(d3.axisLeft(y).tickSize(15).tickSizeOuter(0).tickFormat(''))
	ya.select('.domain').remove()
	ya.selectAll('.tick line').attr('stroke-width', 2).attr('stroke', '#000')
	g.append('line').attr('x1', x(0)).attr('x2', x(0)).attr('y1', opt.axisTop).attr('y2', opt.axisY)
		.attr('stroke', '#000').attr('stroke-width', 3)

	// term names, wrapped ones kept in one text element
	opt.terms.forEach(function(t){
		let lines = t.split('\n')
		let c = y(t) + y.bandwidth() / 2
		let label = txt(g, 907, c + 6.5 - 9.5 * (lines.length - 1), '', { size: 19, bold: true, anchor: 'end', sx: 1.115 })
		lines.forEach(function(s, j){
			label.append('tspan').attr('x', 0).attr('dy', j == 0 ? 0 : 19.5).text(s)
		})
	})

	txt(g, opt.letterX, opt.letterY, opt.letter, { size: 30, bold: true, sx: 1 })
	txt(g, opt.titleX, opt.titleY, opt.title, { size: 19.5, bold: true })
	subLabel(g, 1038, opt.axisY + 51, '-Log', '10', ' (p-value)', 20, false)
}

volcano({
	top: 55, bottom: 396, points: ap1Points,
	genes: ap1HitGenes, fc: ap1HitFC, p: ap1HitP, offsets: labelOffsets.A, leaders: false,
	letter: 'A', letterX: 9, letterY: 33, title: 'AP-1 vs CLCa', titleY: 41,
	leftTag: 'AP-1', leftTagX: 87, tagY: 70
})
volcano({
	top: 504, bottom: 844, points: ap2Points,
	genes: ap2HitGenes, fc: ap2HitFC, p: ap2HitP, offsets: labelOffsets.C, leaders: true,
	letter: 'C', letterX: 8, letterY: 487, title: 'AP-2 vs CLCa', titleY: 490,
	leftTag: 'AP-2', leftTagX: 96, tagY: 518
})
goPanel({
	terms: go1Terms, values: go1Values, band: [79.5, 357.2], pi: 0.32,
	axisTop: 72, axisY: 363,
	letter: 'B', letterX: 621, letterY: 33, title: 'Most enriched GO terms vs AP-1:', titleX: 661, titleY: 37.5
})
goPanel({
	terms: go2Terms, values: go2Values, band: [529, 799.3], pi: 0.34,
	axisTop: 521, axisY: 805,
	letter: 'D', letterX: 631, letterY: 487, title: 'Most enriched GO terms vs AP-2:', titleX: 671, titleY: 487
})
</script>
</body>
</html>
